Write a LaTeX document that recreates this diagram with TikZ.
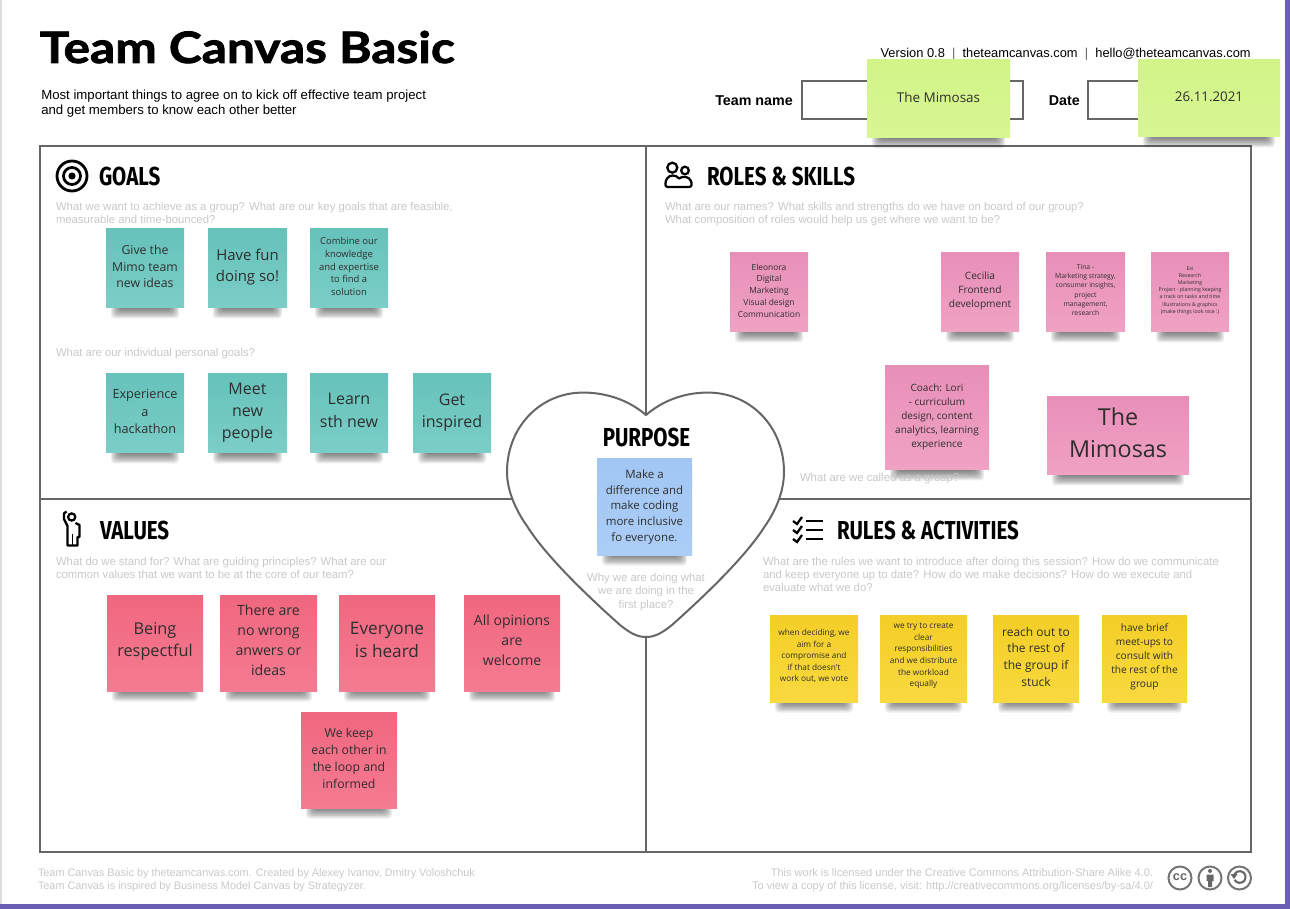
\documentclass[tikz,border=0pt]{standalone}
\usepackage{fontspec}
\setmainfont{Liberation Sans}
\newfontfamily\stickyfont{Open Sans}
\newfontfamily\titlefont[FakeStretch=1.145,BoldFeatures={FakeBold=1.8}]{Lato}
\newfontfamily\headfont[FakeStretch=0.79]{Fira Sans}
\usetikzlibrary{shadings}
\definecolor{linegray}{HTML}{666666}
\definecolor{hintgray}{HTML}{C9C9C9}
\definecolor{framepurple}{HTML}{6A5FB5}
\definecolor{edgegray}{HTML}{DDDDDD}
\tikzset{
  x=0.75pt,y=-0.75pt,
  note/.style={inner sep=0pt,outer sep=0pt},
  notetext/.style={inner sep=0pt,outer sep=0pt,align=center,text=black!82},
  tealnote/.style={bottom color=tealB,top color=tealA},
  pinknote/.style={bottom color=pinkB,top color=pinkA},
  rednote/.style={bottom color=redB,top color=redA},
  yellownote/.style={bottom color=yelB,top color=yelA},
  greennote/.style={bottom color=greenB,top color=greenA},
  bluenote/.style={bottom color=blueB,top color=blueA},
  hint/.style={inner sep=0pt,outer sep=0pt,text=hintgray,align=left,font=\fontsize{8.5}{9.9}\selectfont},
  heading/.style={inner sep=0pt,outer sep=0pt,anchor=west,font=\headfont\bfseries\fontsize{19.5}{22}\selectfont},
  frame/.style={draw=linegray,line width=1.6pt},
  divider/.style={draw=linegray,line width=1pt},
  field/.style={draw=linegray,line width=0.9pt,fill=white},
  icon/.style={draw=black,line width=2.1pt},
  licence/.style={draw=linegray!90,line width=1.5pt},
}
\definecolor{tealA}{HTML}{66C2BB}\definecolor{tealB}{HTML}{7BCEC7}
\definecolor{pinkA}{HTML}{E88FB8}\definecolor{pinkB}{HTML}{F0A2C4}
\definecolor{redA}{HTML}{F0677F}\definecolor{redB}{HTML}{F47B92}
\definecolor{yelA}{HTML}{F4CE27}\definecolor{yelB}{HTML}{F8D93F}
\definecolor{greenA}{HTML}{D2F488}\definecolor{greenB}{HTML}{D8F692}
\definecolor{blueA}{HTML}{A2C6F4}\definecolor{blueB}{HTML}{ABCDF6}
% name, left, top, right, bottom, style, size(pt), leading(pt), text-lift(px), text
\newcommand\sticky[9]{%
  \pgfmathsetmacro\stickyx{(#2+#4)/2}\pgfmathsetmacro\stickyy{(#3+#5)/2}%
  \pgfmathsetmacro\stickyw{(#4-#2)*0.75}\pgfmathsetmacro\stickyh{(#5-#3)*0.75}%
  \pgfmathsetmacro\stickyty{\stickyy-(#9)}%
  \foreach \layer in {0,...,7}{%
    \fill[black,opacity=0.075,rounded corners=2.8pt] (#2+5+1.2*\layer,#5-4) rectangle (#4-5-1.2*\layer,#5+10.5-1.3*\layer);
  }%
  \node[note,#6,minimum width=\stickyw pt,minimum height=\stickyh pt] (#1) at (\stickyx,\stickyy) {};%
  \stickytext{#1}{#7}{#8}%
}
\newcommand\stickytext[4]{%
  \node[notetext,font=\stickyfont\fontsize{#2}{#3}\selectfont] (#1text) at (\stickyx,\stickyty) {#4};%
}
\begin{document}
\begin{tikzpicture}
\useasboundingbox (0,0) rectangle (1290,909);
\fill[white] (0,0) rectangle (1290,909);
\fill[edgegray] (0,0) rectangle (2,904);
\fill[framepurple] (1285,0) rectangle (1290,909);
\fill[framepurple] (0,904) rectangle (1290,909);

% header
\node[inner sep=0pt,anchor=base west,font=\titlefont\bfseries\fontsize{32.5}{36}\selectfont] (title) at (39.5,63) {Team Canvas Basic};
\node[inner sep=0pt,anchor=north west,align=left,font=\fontsize{9.9}{11.6}\selectfont] (subtitle) at (41,89.5) {Most important things to agree on to kick off effective team project\\and get members to know each other better};
\node[inner sep=0pt,anchor=base east,font=\fontsize{9.65}{12}\selectfont] (version) at (1251,58) {Version 0.8 \ \textcolor{linegray}{|} \ theteamcanvas.com \ \textcolor{linegray}{|} \ hello@theteamcanvas.com};
\node[inner sep=0pt,anchor=base east,font=\bfseries\fontsize{10.7}{12}\selectfont] (teamlabel) at (793,105.5) {Team name};
\node[inner sep=0pt,anchor=base east,font=\bfseries\fontsize{10.7}{12}\selectfont] (datelabel) at (1080,105.5) {Date};
\path[field] (802,81) rectangle (1023,119);
\path[field] (1088,81) rectangle (1200,119);

% canvas frame
\draw[divider] (646,146) -- (646,852);
\draw[divider] (40,499) -- (1251,499);
\draw[frame] (40,146) rectangle (1251,852);

% heart
\draw[draw=linegray,line width=1.5pt,fill=white,line join=round]
  (646,415) .. controls (668,396) and (695,391) .. (716,393)
  .. controls (755,397) and (784,430) .. (784,472)
  .. controls (784,492) and (775,512) .. (765,526)
  .. controls (745,558) and (700,600) .. (672,625)
  .. controls (662,633) and (655,637) .. (646,637)
  .. controls (637,637) and (630,633) .. (620,625)
  .. controls (592,600) and (547,558) .. (527,526)
  .. controls (517,512) and (507,492) .. (507,472)
  .. controls (507,430) and (536,397) .. (575,393)
  .. controls (596,391) and (624,396) .. (646,415) -- cycle;

% headings
\node[heading] (goals) at (99,176) {GOALS};
\node[heading] (roles) at (707,176) {ROLES \& SKILLS};
\node[heading] (values) at (100,530) {VALUES};
\node[heading] (rules) at (837,530) {RULES \& ACTIVITIES};
\node[heading,anchor=center] (purpose) at (646.5,437) {PURPOSE};

% icons
\draw[icon] (72,176) circle [radius=15];
\draw[icon] (72,176) circle [radius=8.5];
\fill (72,176) circle [radius=3.6];
% people
\draw[icon,line width=1.7pt] (672.3,167.7) circle [radius=5];
\draw[icon,line width=1.7pt] (685,170.5) circle [radius=3.8];
\draw[icon,line width=1.7pt,line join=round] (667.5,187) .. controls (664.5,187) and (665,182) .. (667,178.5) .. controls (669.5,174.5) and (676,174.5) .. (679,178.5) .. controls (683,175.5) and (689,176.5) .. (691,181) .. controls (692,184) and (692,187) .. (689,187) -- cycle;
% figure
\draw[icon,line width=1.7pt] (71.7,517) circle [radius=3.6];
\draw[icon,line width=1.7pt,line join=round] (66.5,511.5) -- (64,513.5) -- (64,519) -- (67.5,526) -- (67.5,545.5) -- (77.5,545.5) -- (77.5,537) -- (79.5,537) -- (79.5,525) -- (75.5,523);
\draw[icon,line width=1.2pt] (72.5,534) -- (72.5,545);
% rules icon
\foreach \cy in {519,528,537}{
  \draw[icon,line width=1.7pt,line join=miter] (793,\cy+2) -- (797,\cy+5) -- (802,\cy-2);
}
\draw[icon,line width=2pt] (806,521) -- (823,521);
\draw[icon,line width=2pt] (806,530) -- (823,530);
\draw[icon,line width=2pt] (806,539) -- (823,539);

% hints
\node[hint,anchor=north west] (hgoals) at (56,202) {What we want to achieve as a group? What are our key goals that are feasible,\\measurable and time-bounced?};
\node[hint,anchor=north west] (hgoals2) at (56,348) {What are our individual personal goals?};
\node[hint,anchor=north west] (hroles) at (665,202) {What are our names? What skills and strengths do we have on board of our group?\\What composition of roles would help us get where we want to be?};
\node[hint,anchor=north west] (hvalues) at (56,557) {What do we stand for? What are guiding principles? What are our\\common values that we want to be at the core of our team?};
\node[hint,anchor=north west] (hrules) at (763,557) {What are the rules we want to introduce after doing this session? How do we communicate\\and keep everyone up to date? How do we make decisions? How do we execute and\\evaluate what we do?};
\node[hint,anchor=north,align=center] (hpurpose) at (646,573.5) {Why we are doing what\\we are doing in the\\first place?};

% goals notes
\sticky{g1}{106}{229}{184}{308}{tealnote}{9.2}{12.4}{2}{Give the\\Mimo team\\new ideas}
\sticky{g2}{208}{229}{287}{308}{tealnote}{11.2}{15.7}{1}{Have fun\\doing so!}
\sticky{g3}{310}{229}{388}{308}{tealnote}{7.1}{9.5}{2}{Combine our\\knowledge\\and expertise\\to find a\\solution}
\sticky{g4}{106}{374}{184}{453}{tealnote}{9.5}{13}{2}{Experience\\a\\hackathon}
\sticky{g5}{208}{374}{287}{453}{tealnote}{12}{16.5}{1}{Meet\\new\\people}
\sticky{g6}{310}{374}{388}{453}{tealnote}{12}{16.8}{3}{Learn\\sth new}
\sticky{g7}{413}{374}{491}{453}{tealnote}{12}{16.8}{1}{Get\\inspired}

% roles notes
\sticky{r1}{730}{253}{808}{332}{pinknote}{6.3}{8.8}{2}{Eleonora\\Digital\\Marketing\\Visual design\\Communication}
\sticky{r2}{941}{253}{1019}{332}{pinknote}{7.6}{10.5}{1.5}{Cecilia\\Frontend\\development}
\sticky{r3}{1046}{253}{1125}{332}{pinknote}{5.1}{7}{2.5}{Tina -\\Marketing strategy,\\consumer insights,\\project\\management,\\research}
\sticky{r4}{1151}{253}{1229}{332}{pinknote}{3.9}{5.4}{2}{Exi\\Research\\Marketing\\Project - planning keeping\\a track on tasks and time\\Illustrations \& graphics\\(make things look nice :)}
\sticky{r5}{885}{366}{989}{470}{pinknote}{7.5}{10.6}{1}{Coach: Lori\\- curriculum\\design, content\\analytics, learning\\experience}
\sticky{r6}{1047}{397}{1189}{475}{pinknote}{17.5}{24}{3}{The\\Mimosas}
\node[hint,anchor=base west] (hcalled) at (800,481) {What are we called as a group?};

% purpose note
\sticky{p1}{597}{459}{692}{555}{bluenote}{8.6}{11.7}{0}{Make a\\difference and\\make coding\\more inclusive\\fo everyone.}

% values notes
\sticky{v1}{107}{595}{203}{691}{rednote}{12.2}{16.5}{2}{Being\\respectful}
\sticky{v2}{220}{595}{317}{691}{rednote}{10.6}{15}{3}{There are\\no wrong\\anwers or\\ideas}
\sticky{v3}{339}{595}{435}{691}{rednote}{12.9}{17.2}{3}{Everyone\\is heard}
\sticky{v4}{464}{595}{560}{691}{rednote}{10.5}{15}{3}{All opinions\\are\\welcome}
\sticky{v5}{301}{712}{397}{808}{rednote}{9.2}{12.8}{1.5}{We keep\\each other in\\the loop and\\informed}

% rules notes
\sticky{a1}{770}{615}{858}{702}{yellownote}{6.2}{8.65}{2.5}{when deciding, we\\aim for a\\compromise and\\if that doesn't\\work out, we vote}
\sticky{a2}{880}{615}{967}{702}{yellownote}{6.2}{8.65}{2.5}{we try to create\\clear\\responsibilities\\and we distribute\\the workload\\equally}
\sticky{a3}{993}{615}{1079}{702}{yellownote}{9}{12.5}{2}{reach out to\\the rest of\\the group if\\stuck}
\sticky{a4}{1102}{615}{1187}{702}{yellownote}{7.6}{10.5}{1.5}{have brief\\meet-ups to\\consult with\\the rest of the\\group}

% name notes
\sticky{n1}{867}{60}{1010}{138}{greennote}{10.1}{13}{2}{The Mimosas}
\sticky{n2}{1138}{60}{1280}{137}{greennote}{10}{13}{2}{26.11.2021}

% footer
\node[hint,anchor=north west,font=\fontsize{8.15}{9.7}\selectfont] (fleft) at (38,869) {Team Canvas Basic by theteamcanvas.com. Created by Alexey Ivanov, Dmitry Voloshchuk\\Team Canvas is inspired by Business Model Canvas by Strategyzer.};
\node[hint,anchor=north east,align=right,font=\fontsize{8.25}{9.7}\selectfont] (fright) at (1153,869) {This work is licensed under the Creative Commons Attribution-Share Alike 4.0.\\To view a copy of this license, visit: http://creativecommons.org/licenses/by-sa/4.0/};

% licence icons
\draw[licence] (1180,878) circle [radius=11.5];
\node[inner sep=0pt,text=linegray,font=\bfseries\fontsize{9.5}{10}\selectfont] (cc) at (1180,877.5) {cc};
\draw[licence] (1210,878) circle [radius=11.5];
\fill[linegray] (1210,871) circle [radius=2];
\fill[linegray] (1206.5,874.5) rectangle (1213.5,881) (1208,881) rectangle (1212,887);
\draw[licence] (1239.5,878) circle [radius=11.5];
\draw[linegray,line width=1.6pt] (1234,876) arc [start angle=170,end angle=-150,x radius=5.8,y radius=-5.8];
\fill[linegray] (1230.5,874) -- (1237.5,874) -- (1234,879) -- cycle;
\end{tikzpicture}
\end{document}
